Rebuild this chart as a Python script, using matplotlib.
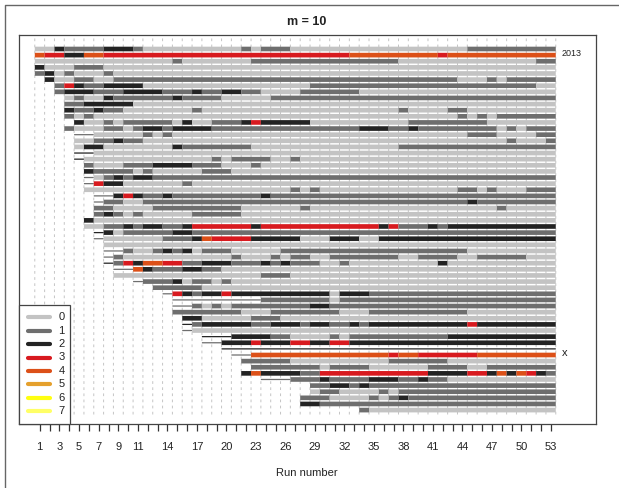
import matplotlib
matplotlib.use("Agg")
import matplotlib.pyplot as plt
from matplotlib.lines import Line2D

plt.rcParams['font.family'] = ['Liberation Sans', 'DejaVu Sans']

state_labels = ['0', '1', '2', '3', '4', '5', '6', '7']
state_colors = ['#c3c3c3', '#6e6e6e', '#232323', '#d81a1f', '#dc5018',
                '#e5a02c', '#ffff10', '#ffff66']
tick_runs = list(range(1, 54))
label_runs = [1, 3, 5, 7, 9, 11, 14, 17, 20, 23, 26, 29, 32, 35, 38, 41, 44, 47, 50, 53]

# Each row: (first run of the stem or None, stem state, first run of the bar,
#            [(state, last run), ...])
R01 = (None, 0, 1, [(0,2),(2,3),(1,7),(2,10),(1,11),(0,21),(1,22),(0,23),(1,26),(0,44),(1,53)])
R02 = (None, 0, 1, [(4,1),(3,3),(2,5),(4,7),(3,32),(4,41),(3,42),(4,53)])
R03 = (None, 0, 1, [(0,14),(1,15),(0,22),(1,37),(0,51),(1,53)])
R04 = (None, 0, 1, [(2,1),(0,4),(1,7),(0,53)])
R05 = (None, 0, 1, [(1,1),(2,2),(0,3),(1,4),(0,7),(1,8),(0,53)])
R06 = (None, 0, 2, [(2,2),(0,4),(1,6),(0,8),(1,43),(0,46),(1,47),(0,48),(1,53)])
R07 = (2, 1, 3, [(1,3),(3,4),(2,5),(1,7),(2,11),(0,28),(1,51),(0,53)])
R08 = (2, 1, 3, [(1,3),(2,6),(1,9),(2,13),(1,16),(2,17),(1,19),(2,21),(1,23),(0,27),(1,33),(0,53)])
R09 = (3, 1, 4, [(0,4),(1,5),(0,7),(2,8),(1,14),(2,15),(1,19),(0,24),(1,53)])
R10 = (None, 0, 4, [(1,5),(2,10),(0,53)])
R11 = (3, 1, 4, [(2,4),(1,6),(2,7),(1,9),(0,16),(1,17),(0,37),(1,38),(0,42),(1,44),(0,53)])
R12 = (None, 0, 4, [(1,4),(0,5),(1,6),(0,43),(1,44),(0,45),(1,46),(0,47),(1,53)])
R13 = (4, 2, 5, [(2,5),(0,7),(1,8),(0,9),(1,14),(0,15),(2,16),(0,18),(1,21),(2,22),(3,23),(2,28),(0,38),(1,46),(0,53)])
R14 = (None, 0, 4, [(1,4),(0,7),(1,9),(0,10),(1,11),(2,13),(1,14),(2,18),(1,33),(2,36),(1,38),(2,39),(1,47),(0,48),(1,49),(0,50),(1,53)])
R15 = (4, 1, 7, [(0,11),(1,12),(0,13),(1,14),(0,44),(1,47),(0,51),(1,53)])
R16 = (4, 1, 5, [(0,6),(1,8),(2,9),(1,11),(0,48),(1,49),(0,52),(1,53)])
R17 = (4, 1, 5, [(0,5),(2,7),(0,14),(2,15),(1,22),(0,37),(1,53)])
R18 = (4, 2, 7, [(0,53)])
R19 = (4, 2, 6, [(0,18),(1,19),(0,20),(1,24),(0,26),(1,27),(0,53)])
R20 = (5, 1, 6, [(1,6),(0,9),(1,12),(2,16),(1,19),(0,22),(1,23),(0,53)])
R21 = (5, 1, 6, [(2,6),(1,10),(0,11),(1,12),(0,17),(1,20),(0,53)])
R22 = (5, 1, 7, [(0,7),(1,8),(2,9),(1,10),(2,12),(1,53)])
R23 = (5, 1, 7, [(3,7),(2,9),(0,15),(1,16),(0,53)])
R24 = (5, 1, 6, [(0,26),(1,27),(0,28),(1,29),(0,43),(1,45),(0,46),(1,47),(0,50),(1,53)])
R25 = (6, 1, 9, [(2,9),(3,10),(2,11),(1,13),(2,14),(1,23),(2,24),(1,53)])
R26 = (6, 1, 8, [(1,9),(0,11),(1,44),(2,45),(1,53)])
R27 = (6, 2, 7, [(1,8),(0,12),(1,21),(0,27),(1,28),(0,47),(1,48),(0,53)])
R28 = (6, 1, 7, [(1,7),(2,8),(1,9),(0,10),(1,11),(0,16),(1,21),(0,53)])
R29 = (None, 0, 6, [(2,6),(0,53)])
R30 = (None, 0, 6, [(0,7),(1,9),(2,10),(1,11),(2,13),(1,15),(2,16),(3,22),(2,23),(3,35),(2,36),(3,37),(1,40),(2,41),(1,42),(2,53)])
R31 = (6, 2, 8, [(2,8),(0,9),(1,14),(2,16),(1,53)])
R32 = (6, 1, 8, [(0,13),(1,16),(2,17),(4,18),(3,22),(2,27),(0,30),(2,33),(0,35),(2,53)])
R33 = (7, 1, 8, [(0,53)])
R34 = (7, 1, 10, [(1,10),(0,12),(1,13),(2,14),(1,15),(2,16),(0,17),(1,20),(0,25),(1,44),(0,53)])
R35 = (7, 1, 9, [(1,9),(0,20),(1,21),(0,24),(1,25),(0,26),(1,28),(0,30),(1,37),(0,39),(1,43),(0,45),(1,50),(0,53)])
R36 = (7, 2, 9, [(1,9),(3,10),(2,11),(4,13),(3,15),(1,17),(2,20),(1,23),(2,24),(1,25),(2,26),(1,29),(0,31),(1,32),(0,41),(2,42),(0,53)])
R37 = (8, 1, 11, [(4,11),(2,12),(1,15),(2,17),(1,19),(0,53)])
R38 = (None, 0, 9, [(0,23),(1,26),(0,53)])
R39 = (10, 1, 12, [(1,14),(2,15),(0,16),(1,18),(0,19),(1,20),(0,53)])
R40 = (12, 1, 13, [(1,17),(0,53)])
R41 = (13, 1, 15, [(3,15),(2,16),(1,17),(2,19),(3,20),(2,30),(0,31),(2,34),(1,53)])
R42 = (14, 1, 24, [(1,30),(0,31),(1,53)])
R43 = (14, 1, 17, [(1,17),(0,18),(1,19),(0,20),(1,28),(2,30),(1,53)])
R44 = (14, 1, 15, [(1,21),(0,24),(1,31),(0,34),(1,44),(0,53)])
R45 = (15, 1, 16, [(2,17),(0,22),(1,25),(0,53)])
R46 = (15, 2, 17, [(1,17),(2,22),(1,24),(2,27),(1,28),(2,30),(1,32),(2,33),(1,34),(2,44),(3,45),(2,53)])
R47 = (15, 1, 17, [(0,53)])
R48 = (17, 2, 21, [(2,24),(1,26),(0,30),(1,31),(0,32),(1,42),(2,53)])
R49 = (17, 1, 20, [(2,22),(3,23),(2,26),(3,28),(2,30),(3,32),(2,53)])
R50 = (19, 2, None, [])
R51 = (20, 1, 23, [(4,36),(3,37),(4,39),(3,45),(4,53)])
R52 = (21, 2, 22, [(1,26),(0,36),(1,42),(0,53)])
R53 = (22, 1, 23, [(1,29),(0,30),(1,34),(0,40),(1,44),(0,46),(1,53)])
R54 = (None, 0, 22, [(2,22),(4,23),(2,27),(1,29),(3,40),(2,44),(3,46),(2,47),(4,48),(2,49),(4,50),(3,51),(2,52),(1,53)])
R55 = (23, 1, 27, [(1,29),(2,30),(1,34),(2,37),(1,39),(2,40),(1,42),(0,53)])
R56 = (28, 2, 29, [(1,30),(2,32),(1,33),(2,34),(1,53)])
R57 = (28, 2, 29, [(0,29),(1,31),(0,35),(1,36),(0,37),(1,53)])
R58 = (None, 0, 28, [(1,30),(0,34),(1,35),(0,36),(1,37),(2,38),(1,53)])
R59 = (None, 0, 28, [(2,29),(1,53)])
R60 = (33, 2, 34, [(1,34),(0,53)])
rows = [R01,R02,R03,R04,R05,R06,R07,R08,R09,R10,R11,R12,R13,R14,R15,R16,R17,R18,R19,R20,
        R21,R22,R23,R24,R25,R26,R27,R28,R29,R30,R31,R32,R33,R34,R35,R36,R37,R38,R39,R40,
        R41,R42,R43,R44,R45,R46,R47,R48,R49,R50,R51,R52,R53,R54,R55,R56,R57,R58,R59,R60]

W, H = 619, 488
fig = plt.figure(figsize=(W/100, H/100), dpi=100)
fig.patch.set_facecolor('white')

# page frame (top and left rule)
fig.add_artist(Line2D([5/W, 5/W, 1], [0, 1-5/H, 1-5/H], color='#666666', lw=1.0,
                      transform=fig.transFigure))

L, R, T, B = 18.5, 596, 34.5, 424
ax = fig.add_axes([L/W, 1-B/H, (R-L)/W, (B-T)/H])
ax.set_xlim(1+(L-39.7)/9.83, 1+(R-39.7)/9.83)
ax.set_ylim(1+(B-49)/6.12, 1+(T-49)/6.12)
for s in ax.spines.values():
    s.set_color('#444444'); s.set_linewidth(0.9)

# short dashes at the run boundaries, crossing the gaps between rows
for k in range(1, 55):
    for gap in range(0, 62):
        y = gap - 0.5
        ax.plot([k-0.5, k-0.5], [y-0.22, y+0.22], color='#c4c4c4', lw=0.7,
                solid_capstyle='butt', zorder=1, snap=False)

for i, (stem, stem_state, first, segs) in enumerate(rows, start=1):
    end_x = (first - 0.5) if first is not None else 53.5
    if stem is not None:
        ax.plot([stem + 0.5, end_x], [i, i], color=state_colors[stem_state],
                lw=0.9, solid_capstyle='butt', zorder=2, snap=False)
    run = first
    for state, last in segs:
        bars = ax.barh(i, last - run + 1, left=run - 0.5, height=0.76,
                       color=state_colors[state], edgecolor='none', zorder=3)
        for b in bars:
            b.set_snap(False)
        run = last + 1

ax.set_xticks(tick_runs)
ax.set_xticklabels([str(r) if r in label_runs else '' for r in tick_runs], fontsize=8, color='#222222')
ax.tick_params(axis='x', length=5, width=0.9, color='#333333', pad=8)
ax.set_yticks([])

fig.text(307/W, 1-22/H, 'm = 10', ha='center', va='center', fontsize=9, fontweight='bold', color='#222222')
fig.text(307/W, 1-472.5/H, 'Run number', ha='center', va='center', fontsize=8, color='#222222')
fig.text(562/W, 1-54/H, '2013', ha='left', va='center', fontsize=6.5, color='#222222')
fig.text(562/W, 1-353/H, 'x', ha='left', va='center', fontsize=8, color='#222222')

# legend
leg = plt.Rectangle((L/W, 1-B/H), (69.5-L)/W, (B-304.5)/H, transform=fig.transFigure,
                    facecolor='white', edgecolor='#444444', lw=0.9, zorder=5)
fig.add_artist(leg)
for j, (lab, col) in enumerate(zip(state_labels, state_colors)):
    y = 317.3 + j*13.4
    fig.add_artist(Line2D([28/W, 49.5/W], [1-y/H, 1-y/H], color=col, lw=3, solid_capstyle='round',
                          transform=fig.transFigure, zorder=6))
    fig.text(61.5/W, 1-y/H, lab, ha='center', va='center', fontsize=8, color='#222222', zorder=6)

fig.savefig('out.png', dpi=100)
